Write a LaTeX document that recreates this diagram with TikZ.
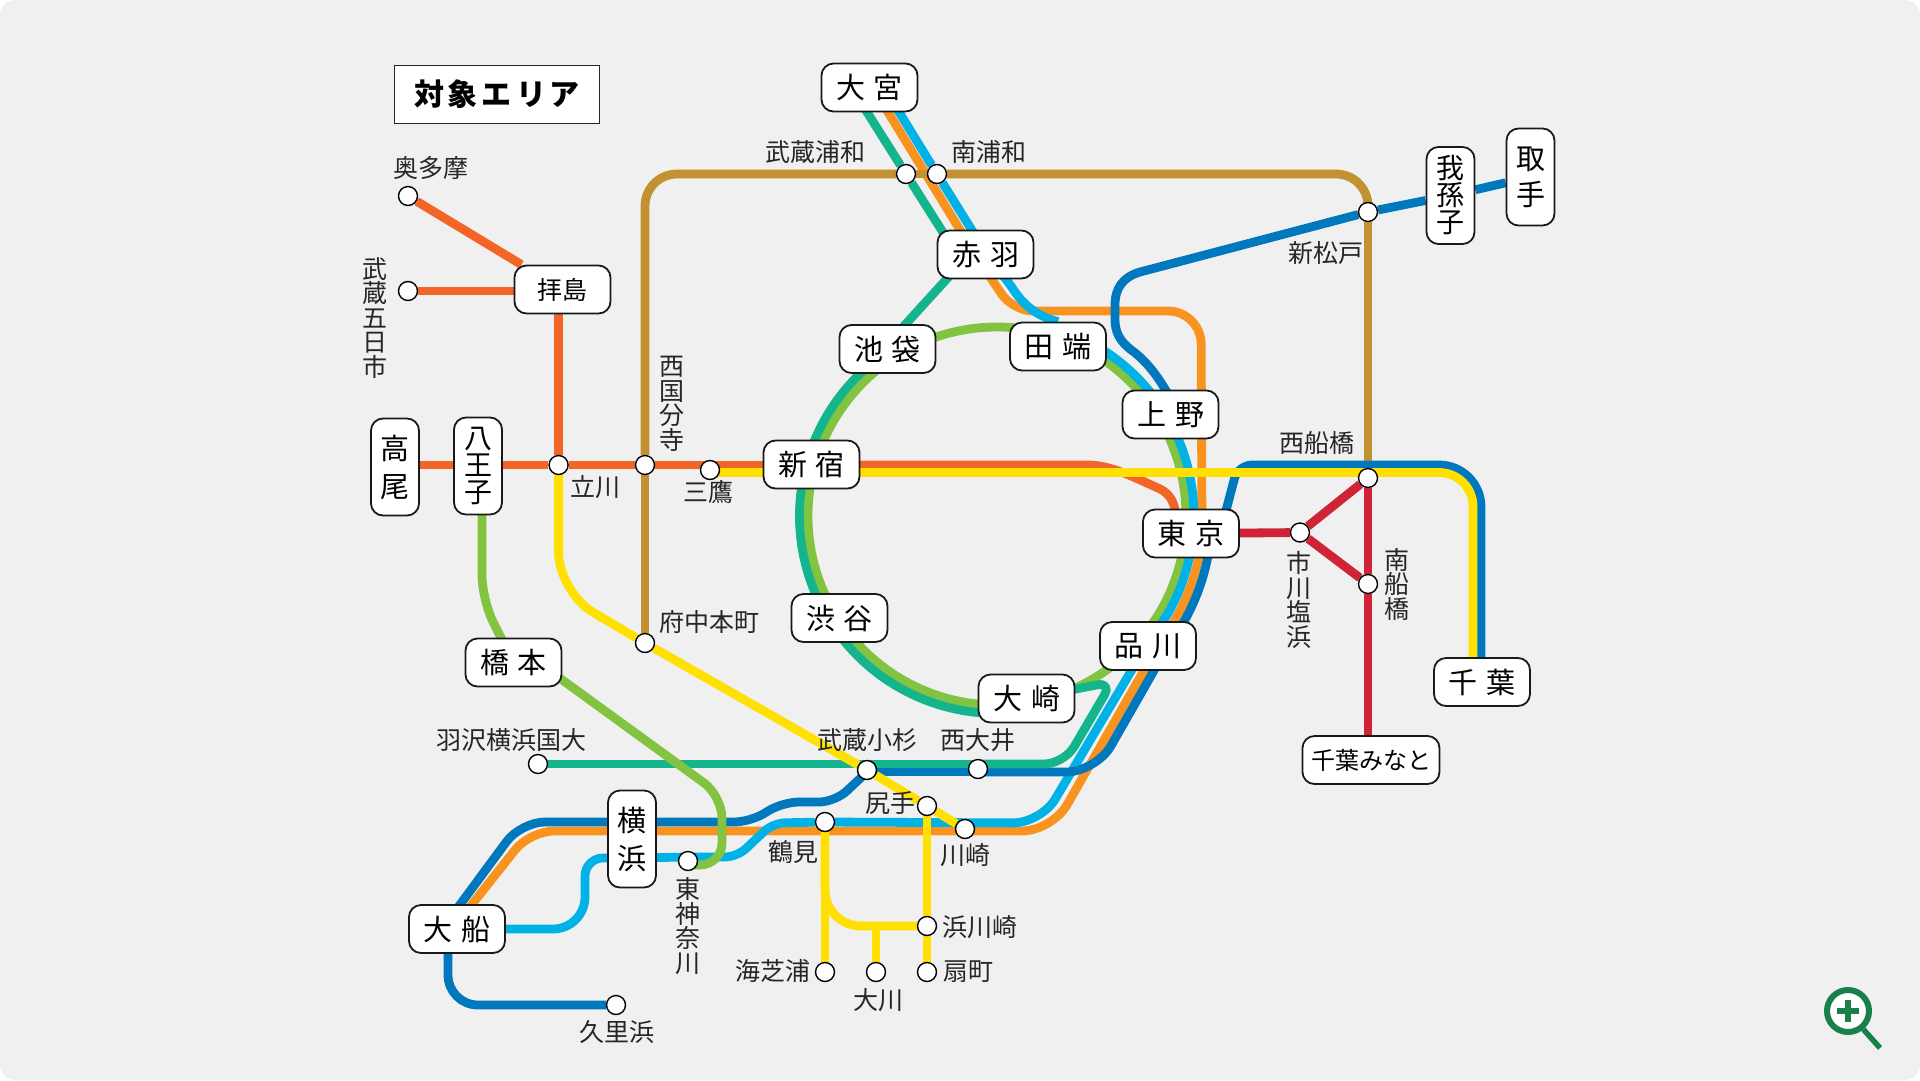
\documentclass[tikz,border=0pt]{standalone}
\usepackage{fontspec}
\setmainfont{Noto Sans CJK JP}
\usetikzlibrary{backgrounds}
\definecolor{bgcol}{HTML}{F0F0F0}
\definecolor{redorange}{HTML}{F26526}
\definecolor{railyellow}{HTML}{FFE000}
\definecolor{railteal}{HTML}{14B48C}
\definecolor{railgreen}{HTML}{82C341}
\definecolor{railgold}{HTML}{C29232}
\definecolor{railcyan}{HTML}{00B2E5}
\definecolor{railblue}{HTML}{0078BE}
\definecolor{railorange}{HTML}{F7931E}
\definecolor{railred}{HTML}{D02336}
\definecolor{iconcol}{HTML}{188048}
\newcommand{\boxgap}{\hspace{9pt}}
\newcommand{\titlegap}{\hspace{4pt}}
\tikzset{
  rail/.style={line width=8.8pt,line join=round},
  stn/.style={circle,draw=black,fill=white,line width=1.4pt,minimum size=19pt,inner sep=0pt},
  stnbox/.style={draw=black!90,fill=white,line width=1.8pt,rounded corners=12pt,inner sep=0pt,
    minimum width=96pt,minimum height=48pt,font=\fontsize{29pt}{29pt}\selectfont},
  stnboxsmall/.style={stnbox,font=\fontsize{24pt}{24pt}\selectfont},
  stnboxv/.style={stnbox,minimum width=48pt,minimum height=97pt,align=center},
  stnboxvs/.style={stnboxv,font=\fontsize{28pt}{27pt}\selectfont},
  lbl/.style={inner sep=0pt,text=black!85,font=\fontsize{25pt}{25pt}\selectfont},
  lblv/.style={lbl,align=center,font=\fontsize{25pt}{24.5pt}\selectfont}
}
\begin{document}
\begin{tikzpicture}[x=1pt,y=-1pt]
\useasboundingbox (0,0) rectangle (1920,1080);
\node[draw=black!85,fill=white,line width=1.7pt,minimum width=205pt,minimum height=58pt,inner sep=0pt,
  font=\fontsize{30pt}{30pt}\selectfont\bfseries] (areatitle) at (497,94.5)
  {対\titlegap 象\titlegap エ\titlegap リ\titlegap ア};
\node[stnbox] (omiya) at (869.5,87.5) {大\boxgap 宮};
\node[stnbox] (akabane) at (985.5,254.5) {赤\boxgap 羽};
\node[stnbox] (ikebukuro) at (887.5,349) {池\boxgap 袋};
\node[stnbox] (tabata) at (1058,346.5) {田\boxgap 端};
\node[stnbox] (ueno) at (1170.5,414.5) {上\boxgap 野};
\node[stnbox] (shinjuku) at (811.5,464.5) {新\boxgap 宿};
\node[stnbox] (tokyo) at (1191,533.5) {東\boxgap 京};
\node[stnbox] (shibuya) at (839.5,618) {渋\boxgap 谷};
\node[stnbox] (shinagawa) at (1148,646) {品\boxgap 川};
\node[stnbox] (osaki) at (1026.5,698.5) {大\boxgap 崎};
\node[stnbox] (hashimoto) at (513.5,662.5) {橋\boxgap 本};
\node[stnbox] (ofuna) at (457,929) {大\boxgap 船};
\node[stnbox] (chiba) at (1482,682) {千\boxgap 葉};
\node[stnboxsmall,font=\fontsize{25pt}{25pt}\selectfont] (haijima) at (562.5,289.5) {拝島};
\node[stnboxsmall,minimum width=137pt] (chibaminato) at (1371,760) {千葉みなと};
\node[stnboxv] (takao) at (395,467) {高\\[9pt]尾};
\node[stnboxvs] (hachioji) at (478,466) {八\\王\\子};
\node[stnboxvs] (abiko) at (1450.5,195.5) {我\\孫\\子};
\node[stnboxv] (toride) at (1530.5,177) {取\\[7pt]手};
\node[stnboxv] (yokohama) at (632,839) {横\\[9pt]浜};
\node[stn] (okutama) at (408,196) {};
\node[stn] (itsukaichi) at (408,291) {};
\node[stn] (tachikawa) at (558.6,465) {};
\node[stn] (kokubunji) at (645,465) {};
\node[stn] (mitaka) at (710,470) {};
\node[stn] (fuchu) at (645,643) {};
\node[stn] (musashiurawa) at (906,174) {};
\node[stn] (minamiurawa) at (937,174) {};
\node[stn] (shinmatsudo) at (1368,212) {};
\node[stn] (nishifunabashi) at (1368,478) {};
\node[stn] (shiohama) at (1300,532.5) {};
\node[stn] (minamifunabashi) at (1368,584) {};
\node[stn] (hazawa) at (538,764) {};
\node[stn] (kosugi) at (867,770) {};
\node[stn] (nishioi) at (978,769) {};
\node[stn] (shiriteh) at (927,806) {};
\node[stn] (kawasaki) at (965,829) {};
\node[stn] (tsurumi) at (825,822) {};
\node[stn] (hkanagawa) at (688,861) {};
\node[stn] (hamakawasaki) at (927,926) {};
\node[stn] (ogimachi) at (927,972) {};
\node[stn] (okawa) at (876,972) {};
\node[stn] (kaishibaura) at (825,972) {};
\node[stn] (kurihama) at (616,1005) {};
\node[lbl] (lokutama) at (431,168) {奥多摩};
\node[lblv] (litsukaichi) at (375,318) {武\\蔵\\五\\日\\市};
\node[lbl] (ltachikawa) at (595,487) {立川};
\node[lblv] (lkokubunji) at (672,404) {西\\国\\分\\寺};
\node[lbl] (lmitaka) at (708,492) {三鷹};
\node[lbl] (lmusashiurawa) at (815,152) {武蔵浦和};
\node[lbl] (lminamiurawa) at (989,152) {南浦和};
\node[lbl] (lshinmatsudo) at (1326,253) {新松戸};
\node[lbl] (lnishifunabashi) at (1317,443) {西船橋};
\node[lblv] (lshiohama) at (1299,600) {市\\川\\塩\\浜};
\node[lblv] (lminamifunabashi) at (1397,584) {南\\船\\橋};
\node[lbl] (lfuchu) at (709,622) {府中本町};
\node[lbl] (lhazawa) at (511,740) {羽沢横浜国大};
\node[lbl] (lkosugi) at (867,740) {武蔵小杉};
\node[lbl] (lnishioi) at (978,740) {西大井};
\node[lbl] (lshiriteh) at (890,803) {尻手};
\node[lbl] (lkawasaki) at (965,855) {川崎};
\node[lbl] (ltsurumi) at (793,852) {鶴見};
\node[lblv] (lhkanagawa) at (688,926) {東\\神\\奈\\川};
\node[lbl] (lhamakawasaki) at (980,927) {浜川崎};
\node[lbl] (logimachi) at (968,972) {扇町};
\node[lbl] (lokawa) at (878,1000) {大川};
\node[lbl] (lkaishibaura) at (773,971) {海芝浦};
\node[lbl] (lkurihama) at (617,1032) {久里浜};
\node[circle,draw=iconcol,fill=white,line width=6pt,minimum size=42pt,inner sep=0pt] (lens) at (1848,1011) {};
\draw[iconcol,line width=5.5pt] ([xshift=-11pt]lens.center) -- ([xshift=11pt]lens.center);
\draw[iconcol,line width=5.5pt] ([yshift=-11pt]lens.center) -- ([yshift=11pt]lens.center);
\coordinate (handle) at (1880,1048);
\draw[iconcol,line width=5.5pt] (lens.-50) -- (handle);
\coordinate (ring) at (997,516);
\begin{pgfonlayer}{background}
\fill[white] (0,0) rectangle (1920,1080);
\fill[bgcol,rounded corners=16pt] (0,0) rectangle (1920,1080);
\draw[rail,redorange] (okutama) -- (haijima);
\draw[rail,redorange] (itsukaichi) -- ([yshift=-1.5pt]haijima.center);
\draw[rail,redorange] ([xshift=-4pt]haijima.center) -- (tachikawa);
\draw[rail,redorange] ([yshift=2pt]takao.center) -- ([yshift=1pt]hachioji.center);
\draw[rail,redorange] ([yshift=1pt]hachioji.center) -- (tachikawa);
\draw[rail,redorange] (tachikawa) -- (kokubunji);
\draw[rail,redorange] (kokubunji) -- ([yshift=5pt]mitaka.center);
\draw[rail,redorange] ([yshift=5pt]mitaka.center) -- ([yshift=-0.5pt]shinjuku.center);
\draw[rail,redorange] ([yshift=-0.5pt]shinjuku.center) -- (1087,465) .. controls (1112,465) and (1135,478) .. (1158,488)
  .. controls (1172,494) and (1177,505) .. ([xshift=-14pt]tokyo.center);
\draw[rail,railgreen] (ring) circle[radius=189];
\draw[rail,railteal] (musashiurawa) -- ([xshift=-28.5pt]akabane.center);
\draw[rail,railteal] ([xshift=-18pt]omiya.center) -- (musashiurawa);
\draw[rail,railteal] ([xshift=-16.5pt]akabane.center) -- ([xshift=-4.5pt]ikebukuro.center);
\draw[rail,railteal] ([xshift=4pt]ikebukuro.center) arc[start angle=-122.3,end angle=-164.9,radius=197.5];
\draw[rail,railteal] ([xshift=-5.2pt]shinjuku.center) arc[start angle=-164.9,end angle=-211.1,radius=197.5];
\draw[rail,railteal] ([xshift=-11.6pt]shibuya.center) arc[start angle=-211.1,end angle=-278.6,radius=197.5];
\draw[rail,railorange] ([xshift=3.5pt]omiya.center) -- ([xshift=-10.5pt]akabane.center);
\draw[rail,railorange,rounded corners=20pt] ([xshift=-10.5pt]akabane.center) -- (1013,311)
  [rounded corners=33pt] -- (1201,311) -- ([xshift=11pt]tokyo.center);
\draw[rail,railorange] ([xshift=11pt]tokyo.center) arc[start angle=4.7,end angle=30,radius=206]
  -- ([xshift=10pt]shinagawa.center);
\draw[rail,railorange,rounded corners=30pt] ([xshift=10pt]shinagawa.center) -- (1052,831) -- ([yshift=8pt]yokohama.center);
\draw[rail,railorange,rounded corners=24pt] ([yshift=8pt]yokohama.center) -- (530,831) -- ([xshift=-4.5pt]ofuna.center);
\draw[rail,railcyan] ([xshift=14.5pt]omiya.center) -- (minamiurawa);
\draw[rail,railcyan] (minamiurawa) -- ([xshift=1.5pt]akabane.center);
\draw[rail,railcyan] ([xshift=1.5pt]akabane.center) -- (1011,286) .. controls (1020,300) and (1032,315) .. (tabata.north);
\draw[rail,railcyan] ([xshift=39.4pt]tabata.center) arc[start angle=-59.4,end angle=-31,radius=197];
\draw[rail,railcyan] ([xshift=-4.7pt]ueno.center) arc[start angle=-31,end angle=5.1,radius=197];
\draw[rail,railcyan] ([xshift=2pt]tokyo.center) arc[start angle=5.1,end angle=30,radius=197]
  -- ([xshift=-2pt]shinagawa.center);
\draw[rail,railcyan,rounded corners=28pt] ([xshift=-2pt]shinagawa.center) -- (1041,823) -- (tsurumi);
\draw[rail,railcyan,rounded corners=12pt] (tsurumi) -- (773,823) -- (737,857) -- ([yshift=4pt]hkanagawa.center);
\draw[rail,railcyan] ([yshift=4pt]hkanagawa.center) -- ([yshift=-19pt]yokohama.center);
\draw[rail,railcyan,rounded corners=18pt] ([yshift=-19pt]yokohama.center) -- (585,858)
  [rounded corners=32pt] -- (585,929) -- (ofuna);
\draw[rail,railgold] (fuchu) -- (kokubunji);
\draw[rail,railgold,rounded corners=32pt] (kokubunji) -- (645,174) -- (musashiurawa);
\draw[rail,railgold] (musashiurawa) -- (minamiurawa);
\draw[rail,railgold,rounded corners=32pt] (minamiurawa) -- (1368,174) -- (shinmatsudo);
\draw[rail,railgold] (shinmatsudo) -- (nishifunabashi);
\draw[rail,railblue] (toride) -- (abiko);
\draw[rail,railblue] (abiko) -- (shinmatsudo);
\draw[rail,railblue] (shinmatsudo) -- (1140,272) .. controls (1123,277) and (1115,288) .. (1115,305) -- (1115,320)
  .. controls (1115,332) and (1120,341) .. (1130,349)
  .. controls (1148,362) and (1162,380) .. ([xshift=8pt]ueno.center);
\draw[rail,railblue,rounded corners=42pt] ([xshift=-1pt]chiba.center) -- (1481,465)
  [rounded corners=14pt] -- (1238,465) -- ([xshift=29pt]tokyo.center);
\draw[rail,railblue] ([xshift=20pt]tokyo.center) arc[start angle=4.7,end angle=30,radius=215]
  -- ([xshift=20pt]shinagawa.center);
\draw[rail,railblue,rounded corners=30pt] ([xshift=20pt]shinagawa.center) -- (1096,772) -- ([yshift=-3pt]nishioi.center);
\draw[rail,railblue] ([yshift=-3pt]nishioi.center) -- ([yshift=-2pt]kosugi.center);
\draw[rail,railblue,rounded corners=16pt] ([yshift=-2pt]kosugi.center) -- (835,802) -- (783,802) -- (750,822)
  -- ([yshift=17pt]yokohama.center);
\draw[rail,railblue,rounded corners=24pt] ([yshift=17pt]yokohama.center) -- (521,822) -- ([xshift=-15pt]ofuna.center);
\draw[rail,railblue,rounded corners=30pt] ([xshift=-9pt]ofuna.center) -- (448,1005) -- (kurihama);
\draw[rail,railteal] (hazawa) -- ([yshift=6pt]kosugi.center);
\draw[rail,railteal] ([yshift=6pt]kosugi.center) -- ([yshift=5pt]nishioi.center);
\draw[rail,railteal,rounded corners=20pt] ([yshift=5pt]nishioi.center) -- (1064,764)
  [rounded corners=15pt] -- (1112,682) -- (osaki.center);
\draw[rail,railgreen,rounded corners=25pt] ([xshift=4pt]hachioji.center) -- (482,600) -- (hashimoto.center);
\draw[rail,railgreen,rounded corners=22pt] ([yshift=18pt]hashimoto.center) -- (722,796) -- (722,865) -- ([yshift=-4pt]hkanagawa.center);
\draw[rail,railred] (tokyo) -- (shiohama);
\draw[rail,railred] (shiohama) -- (nishifunabashi);
\draw[rail,railred] (shiohama) -- (minamifunabashi);
\draw[rail,railred] (nishifunabashi) -- (minamifunabashi);
\draw[rail,railred] (minamifunabashi) -- (minamifunabashi |- chibaminato);
\draw[rail,railyellow,rounded corners=40pt] (tachikawa) -- (558.6,592) -- (fuchu);
\draw[rail,railyellow] (fuchu) -- (kosugi);
\draw[rail,railyellow] (kosugi) -- (shiriteh);
\draw[rail,railyellow] (shiriteh) -- (kawasaki);
\draw[rail,railyellow] ([yshift=-2.5pt]mitaka.center) -- ([yshift=-8pt]shinjuku.center);
\draw[rail,railyellow] ([yshift=-8pt]shinjuku.center) -- ([yshift=5.5pt]nishifunabashi.center);
\draw[rail,railyellow,rounded corners=34pt] ([yshift=5.5pt]nishifunabashi.center) -- (1473,472.5) -- ([xshift=-9pt]chiba.center);
\draw[rail,railyellow] (tsurumi) -- (kaishibaura);
\draw[rail,railyellow,rounded corners=36pt] (tsurumi) -- (825,926) -- (hamakawasaki);
\draw[rail,railyellow] (shiriteh) -- (hamakawasaki);
\draw[rail,railyellow] (hamakawasaki) -- (ogimachi);
\draw[rail,railyellow] (okawa) -- (okawa |- hamakawasaki);
\end{pgfonlayer}
\end{tikzpicture}
\end{document}
